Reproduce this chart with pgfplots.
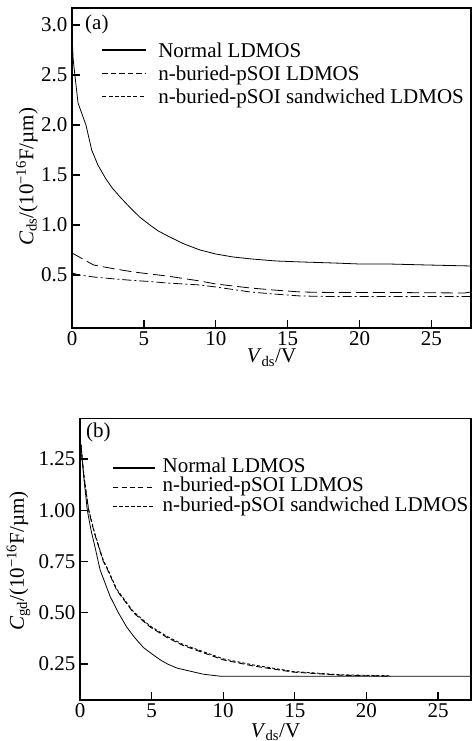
\documentclass[border=0pt]{standalone}
\usepackage{fontspec}
\setmainfont{Liberation Serif}
\usepackage{pgfplots}
\pgfplotsset{compat=1.18}
\begin{document}
\begin{tikzpicture}
\path[use as bounding box] (0,0) rectangle (473pt,741pt);
\pgfplotsset{
 common/.style={
  scale only axis,
  font=\fontsize{21}{25}\selectfont,
  axis line style={line width=1.3pt},
  every tick/.append style={line width=1.3pt, black},
  tick align=inside,
  xtick pos=bottom, ytick pos=left,
  major tick length=8pt,
  xmin=0,
  xtick={0,5,10,15,20,25},
  xticklabels={0,5,10,15,20,25},
  yticklabel style={inner xsep=4.5pt},
  legend style={draw=none, fill=none, inner sep=0pt, outer sep=0pt, anchor=north west,
    nodes={inner sep=0pt, text height=14.5pt, text depth=4.5pt, anchor=base west}},
  legend cell align=left,
 }
}
% ---------------- (a) ----------------
\begin{axis}[common,
  at={(72pt,413pt)}, anchor=south west,
  width=399pt, height=320pt,
  xmax=27.75, ymin=-0.03, ymax=3.17,
  ytick={0.5,1,1.5,2,2.5,3},
  yticklabels={0.5,1.0,1.5,2.0,2.5,3.0},
  xlabel={\textit{V}\textsubscript{ds}/V},
  xlabel style={at={([yshift=-35pt]axis description cs:0.5,0)}, anchor=base},
  ylabel={\textit{C}\textsubscript{ds}/(10\textsuperscript{−16}F/µm)},
  ylabel style={at={([xshift=-45pt]axis description cs:0,0.472)}, anchor=center},
  legend style={at={(axis description cs:0.0744,0.8916)}, row sep=4.3pt},
  legend image code/.code={\draw[#1] (0pt,7.3pt) -- (43.3pt,7.3pt); \path (55pt,0pt);},
]
\addplot[black, line width=0.8pt, forget plot] coordinates {
(0.02,2.84) (0.08,2.66) (0.2,2.50) (0.42,2.22) (0.67,2.12) (0.97,2.00) (1.37,1.75)
(1.8,1.60) (2.36,1.46) (2.8,1.37) (3.34,1.28) (4.0,1.18) (4.7,1.08) (5.42,1.00)
(6.0,0.94) (6.8,0.88) (7.8,0.81) (8.9,0.75) (10.0,0.71) (11.2,0.68) (12.5,0.66)
(14.2,0.64) (16,0.63) (18.2,0.62) (20,0.61) (22,0.61) (24.7,0.60) (27.75,0.59)};
\addplot[black, line width=0.8pt, dash pattern=on 12pt off 5pt, forget plot] coordinates {
(0.0,0.72) (0.5,0.68) (1.5,0.60) (3.0,0.56) (4.3,0.53) (5.4,0.51) (6.6,0.49)
(8.9,0.44) (10.0,0.41) (12.4,0.37) (14.0,0.35) (15.9,0.33) (18,0.325) (22,0.325)
(27.3,0.32) (27.75,0.33)};
\addplot[black, line width=0.8pt, dash pattern=on 9pt off 3pt on 2pt off 3pt, forget plot] coordinates {
(0.0,0.52) (0.5,0.50) (1.5,0.48) (3.0,0.46) (4.3,0.445) (5.4,0.435) (6.6,0.42)
(8.9,0.40) (10.0,0.38) (12.4,0.33) (14.0,0.31) (15.9,0.29) (18,0.285) (27.75,0.285)};
\addlegendimage{black, line width=1.6pt}
\addlegendentry{Normal LDMOS}
\addlegendimage{black, line width=1.1pt, dash pattern=on 5.5pt off 3pt}
\addlegendentry{n-buried-pSOI LDMOS}
\addlegendimage{black, line width=1.1pt, dash pattern=on 4pt off 2.2pt}
\addlegendentry{n-buried-pSOI sandwiched LDMOS}
\node[anchor=west, inner sep=0pt] at (axis description cs:0.0326,0.947) {(a)};
\end{axis}
% ---------------- (b) ----------------
\begin{axis}[common,
  at={(80pt,41pt)}, anchor=south west,
  width=391pt, height=281.7pt,
  xmax=27.3, ymin=0.074, ymax=1.449,
  ytick={0.25,0.5,0.75,1,1.25},
  yticklabels={0.25,0.50,0.75,1.00,1.25},
  xlabel={\textit{V}\textsubscript{ds}/V},
  xlabel style={at={([yshift=-37pt]axis description cs:0.5,0)}, anchor=base},
  ylabel={\textit{C}\textsubscript{gd}/(10\textsuperscript{−16}F/µm)},
  ylabel style={at={([xshift=-61.5pt]axis description cs:0,0.493)}, anchor=center},
  legend style={at={(axis description cs:0.0836,0.860)}, row sep=0.5pt},
  legend image code/.code={\draw[#1] (0pt,4.4pt) -- (41.3pt,4.4pt); \path (48.3pt,0pt);},
]
\addplot[black, line width=0.8pt, forget plot] coordinates {
(0.07,1.32) (0.15,1.25) (0.28,1.15) (0.51,1.00) (0.78,0.90) (1.05,0.82) (1.4,0.71)
(2.1,0.58) (2.68,0.50) (3.26,0.43) (3.8,0.38) (4.43,0.33) (5.0,0.30) (5.6,0.27)
(6.1,0.25) (6.76,0.23) (8.6,0.20) (9.8,0.19) (20,0.19) (27.3,0.19)};
\addplot[black, line width=0.9pt, dash pattern=on 6pt off 3pt, forget plot] coordinates {
(0.07,1.32) (0.15,1.25) (0.3,1.15) (0.6,1.00) (1.0,0.89) (1.4,0.80) (1.63,0.75)
(1.86,0.72) (2.56,0.61) (3.73,0.50) (4.9,0.43) (6.06,0.38) (7.2,0.34) (10.0,0.27)
(12.1,0.24) (14.9,0.21) (18.2,0.195) (21.7,0.19)};
\addplot[black, line width=0.9pt, dash pattern=on 3pt off 2pt, forget plot] coordinates {
(0.07,1.32) (0.15,1.255) (0.3,1.155) (0.6,1.005) (1.0,0.895) (1.4,0.805) (1.63,0.755)
(1.86,0.725) (2.56,0.615) (3.73,0.505) (4.9,0.435) (6.06,0.385) (7.2,0.345) (10.0,0.275)
(12.1,0.245) (14.9,0.213) (18.2,0.197) (21.7,0.192)};
\addlegendimage{black, line width=1.6pt}
\addlegendentry{Normal LDMOS}
\addlegendimage{black, line width=1.1pt, dash pattern=on 5pt off 3.3pt}
\addlegendentry{n-buried-pSOI LDMOS}
\addlegendimage{black, line width=1.1pt, dash pattern=on 4pt off 2pt}
\addlegendentry{n-buried-pSOI sandwiched LDMOS}
\node[anchor=west, inner sep=0pt] at (axis description cs:0.0153,0.948) {(b)};
\end{axis}
\end{tikzpicture}
\end{document}
